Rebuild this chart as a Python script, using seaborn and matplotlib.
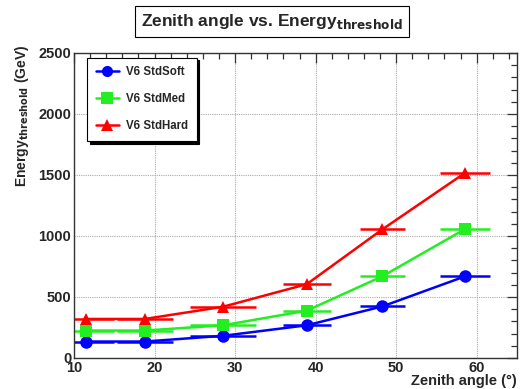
import numpy as np
import pandas as pd
import seaborn as sns
import matplotlib
matplotlib.use("Agg")
import matplotlib.pyplot as plt
from matplotlib.ticker import MultipleLocator
from matplotlib.lines import Line2D

zenith = [11.5, 18.8, 28.5, 38.9, 48.3, 58.5]
zenith_err = [3.5, 3.5, 4.1, 3.0, 2.8, 3.1]
soft = [135, 135, 182, 268, 423, 668]
med = [225, 225, 268, 388, 670, 1055]
hard = [320, 320, 420, 605, 1055, 1515]
series_names = ["V6 StdSoft", "V6 StdMed", "V6 StdHard"]

colors = {"V6 StdSoft": "#0000ff", "V6 StdMed": "#22ee22", "V6 StdHard": "#ff0000"}
markers = {"V6 StdSoft": "o", "V6 StdMed": "s", "V6 StdHard": "^"}

df = pd.DataFrame({
    "zenith": zenith * 3,
    "xerr": zenith_err * 3,
    "energy": soft + med + hard,
    "cut": [n for n in series_names for _ in zenith],
})

sns.set_style("white")
plt.rcParams["font.family"] = ["Liberation Sans", "DejaVu Sans"]
plt.rcParams["font.weight"] = "bold"

fig = plt.figure(figsize=(5.2, 3.89), dpi=100)
ax = fig.add_axes([0.1423, 0.0797, 0.8519, 0.7841])

sns.lineplot(data=df, x="zenith", y="energy", hue="cut", style="cut",
             palette=colors, markers=markers, dashes=False, linewidth=1.8,
             markersize=9, markeredgewidth=0, ax=ax, legend=False, zorder=3)
for name in series_names:
    sub = df[df["cut"] == name]
    ax.errorbar(sub["zenith"], sub["energy"], xerr=sub["xerr"], fmt="none",
                ecolor=colors[name], elinewidth=1.8, capsize=0, zorder=2)

ax.set_xlim(10, 65)
ax.set_ylim(0, 2500)
ax.xaxis.set_major_locator(MultipleLocator(10))
ax.xaxis.set_minor_locator(MultipleLocator(2))
ax.yaxis.set_major_locator(MultipleLocator(500))
ax.yaxis.set_minor_locator(MultipleLocator(100))
ax.tick_params(which="both", direction="in", top=True, right=True,
               labelsize=10.5, color="#333333", pad=2)
ax.tick_params(which="major", length=7, width=0.9)
ax.tick_params(which="minor", length=4, width=0.9)
for lbl in ax.get_xticklabels() + ax.get_yticklabels():
    lbl.set_fontweight("bold")
ax.grid(True, which="major", color="#aaaaaa", linestyle=(0, (1, 1)), linewidth=0.8)
for sp in ax.spines.values():
    sp.set_color("#333333")
    sp.set_linewidth(1.0)

ax.set_xlabel("")
ax.set_ylabel("")
fig.text(517 / 520, 1 - 381 / 389, "Zenith angle (°)", ha="right", va="center",
         fontsize=10.5, fontweight="bold")
fig.text(22 / 520, 1 - 45 / 389,
         r"Energy$_{\mathregular{\bf threshold}}$ (GeV)", rotation=90,
         ha="center", va="top", fontsize=10, fontweight="bold")

handles = [Line2D([0], [0], color=colors[n], marker=markers[n], markersize=8,
                  markeredgewidth=0, linewidth=1.8) for n in series_names]
leg = ax.legend(handles, series_names, loc="upper left",
                bbox_to_anchor=(0.03, 0.985), frameon=True, fancybox=False,
                shadow={"color": "black", "alpha": 1.0, "ox": 2, "oy": -2},
                edgecolor="black",
                prop={"weight": "bold", "size": 8.3}, handlelength=2.0,
                labelspacing=1.3, borderpad=0.75, handletextpad=0.6,
                borderaxespad=0)
leg.get_frame().set_linewidth(0.8)

fig.text(0.523, 0.945, r"Zenith angle vs. Energy$_{\mathregular{\bf threshold}}$",
         ha="center", va="center", fontsize=12.5, fontweight="bold",
         bbox=dict(boxstyle="square,pad=0.35", facecolor="white",
                   edgecolor="black", linewidth=0.8))

fig.savefig("out.png", dpi=100, facecolor="white")
